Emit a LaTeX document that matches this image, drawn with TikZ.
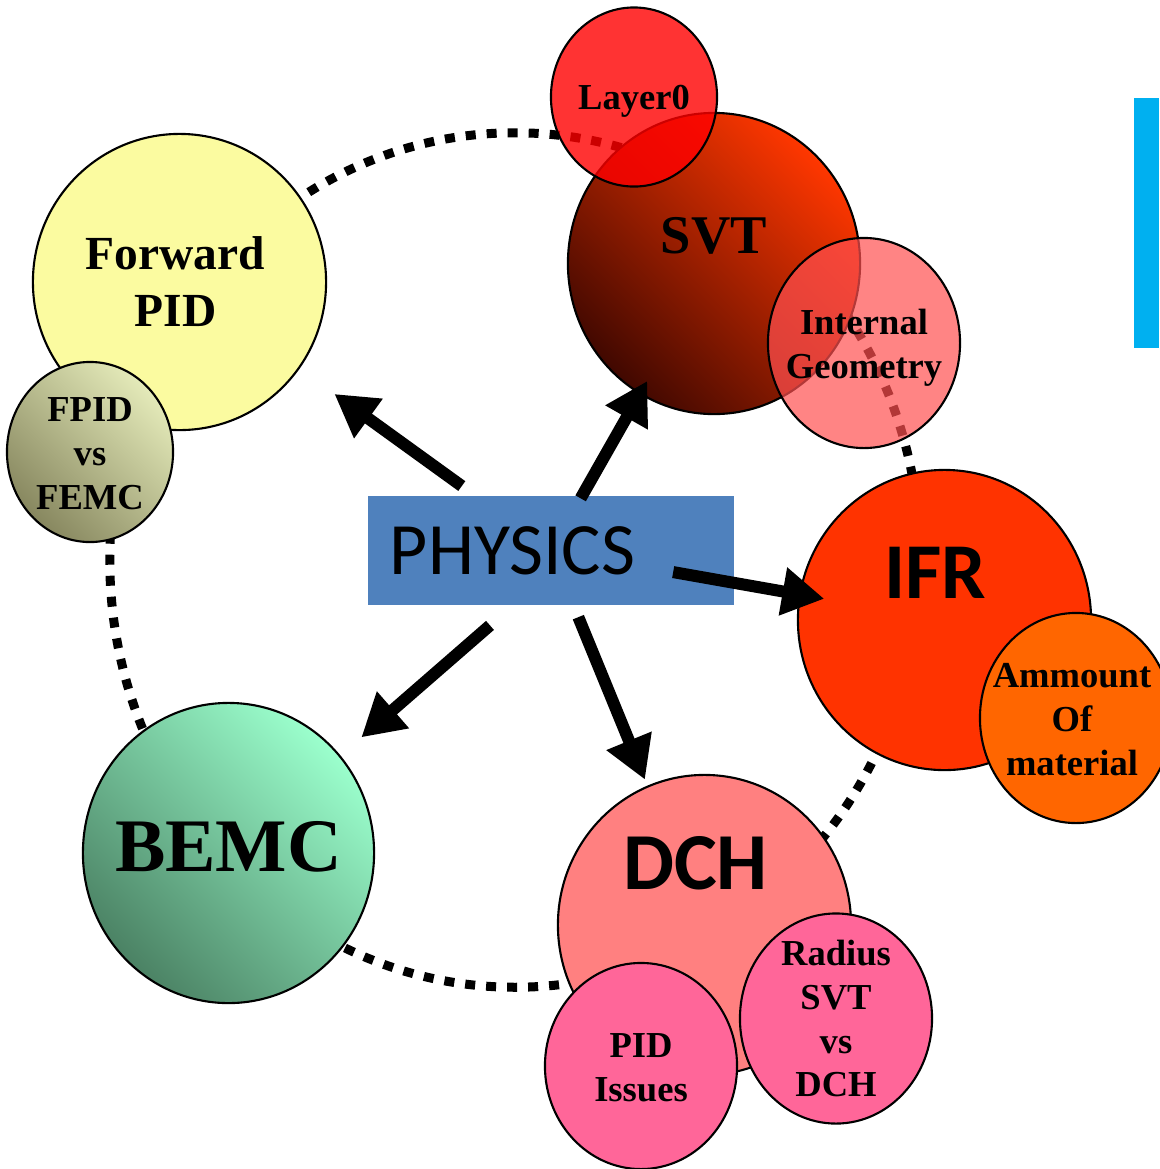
\documentclass[tikz,border=0pt]{standalone}
\usepackage{fontspec}
\setmainfont{Liberation Serif}
\newfontfamily\carlito{Carlito}
\usetikzlibrary{arrows.meta,shapes.geometric}

\definecolor{fwdyellow}{RGB}{251,251,160}
\definecolor{fpiddark}{RGB}{135,135,95}
\definecolor{fpidlight}{RGB}{228,234,185}
\definecolor{svtdark}{RGB}{65,8,0}
\definecolor{svtlight}{RGB}{255,55,0}
\definecolor{intred}{RGB}{255,80,80}
\definecolor{ifrred}{RGB}{255,51,0}
\definecolor{amorange}{RGB}{255,102,0}
\definecolor{dchpink}{RGB}{255,128,128}
\definecolor{pidpink}{RGB}{255,102,153}
\definecolor{bemcdark}{RGB}{75,130,100}
\definecolor{bemclight}{RGB}{155,255,205}
\definecolor{physblue}{RGB}{79,129,189}
\definecolor{barblue}{RGB}{0,176,240}

\begin{document}
\begin{tikzpicture}[x=0.01cm, y=-0.01cm,
	blob/.style={ellipse, draw=black, line width=0.6pt, inner sep=0pt},
	lbl/.style={align=center, text opacity=1, font=\bfseries\fontsize{10.4}{12.5}\selectfont},
	bigarrow/.style={-{Triangle[length=0.42cm,width=0.46cm]}, line width=0.12cm},
	dotring/.style={line width=0.09cm, dash pattern=on 0.1cm off 0.11cm}]
	\useasboundingbox (0,0) rectangle (1159,1169);
	% dotted ring behind everything
	\draw[dotring] (515,560) ellipse [x radius=4.05cm, y radius=4.27cm];
	% forward PID
	\node[blob, fill=fwdyellow, minimum width=2.93cm, minimum height=2.96cm,
		label={[lbl, font=\bfseries\fontsize{13.5}{16.2}\selectfont, xshift=-0.04cm]center:{Forward\\PID}}] (fwdpid) at (179.5,282) {};
	\node[blob, top color=fpidlight, bottom color=fpiddark, shading angle=-45, minimum width=1.66cm, minimum height=1.80cm,
		label={[lbl, yshift=-0.02cm]center:{FPID\\vs\\FEMC}}] (fpid) at (90,452) {};
	% SVT
	\node[blob, top color=svtlight, bottom color=svtdark, shading angle=-45, minimum width=2.92cm, minimum height=3.01cm,
		label={[lbl, font=\bfseries\fontsize{15.5}{18}\selectfont, yshift=0.28cm]center:SVT}] (svt) at (714,263.5) {};
	\node[blob, fill=red, fill opacity=0.8, minimum width=1.66cm, minimum height=1.79cm,
		label={[lbl, yshift=-0.04cm]center:Layer0}] (layer0) at (634,97) {};
	\node[blob, fill=intred, fill opacity=0.7, minimum width=1.92cm, minimum height=2.10cm,
		label={[lbl, yshift=-0.05cm]center:{Internal\\Geometry}}] (intgeo) at (864,343) {};
	% IFR
	\node[blob, fill=ifrred, minimum width=2.93cm, minimum height=3.00cm,
		label={[lbl, font=\carlito\bfseries\fontsize{22.5}{27}\selectfont, yshift=0.47cm, xshift=-0.09cm]center:IFR}] (ifr) at (944.5,620) {};
	\node[blob, fill=amorange, minimum width=1.92cm, minimum height=2.10cm,
		label={[lbl, xshift=-0.04cm, yshift=-0.02cm]center:{Ammount\\Of\\material}}] (ammount) at (1076,718) {};
	% DCH
	\node[blob, fill=dchpink, minimum width=2.93cm, minimum height=3.00cm,
		label={[lbl, font=\carlito\bfseries\fontsize{23}{27}\selectfont, yshift=0.62cm, xshift=-0.09cm]center:DCH}] (dch) at (704.5,925) {};
	\node[blob, fill=pidpink, minimum width=1.92cm, minimum height=2.06cm,
		label={[lbl, yshift=-0.02cm]center:{PID\\Issues}}] (pidiss) at (641,1066) {};
	\node[blob, fill=pidpink, minimum width=1.92cm, minimum height=2.10cm,
		label={[lbl]center:{Radius\\SVT\\vs\\DCH}}] (radius) at (836,1018.5) {};
	% BEMC
	\node[blob, top color=bemclight, bottom color=bemcdark, shading angle=-45, minimum width=2.91cm, minimum height=3.00cm,
		label={[lbl, font=\bfseries\fontsize{21.5}{25}\selectfont, yshift=0.06cm]center:BEMC}] (bemc) at (228.5,853) {};
	% physics in the middle
	\node[fill=physblue, minimum height=1.09cm, text width=3.22cm, inner xsep=0.22cm, align=left, font=\carlito\fontsize{21}{25}\selectfont] (physics) at (551,550.5) {PHYSICS};
	\draw[bigarrow, shorten <=1.10cm, shorten >=1.91cm] (physics.center) -- (fwdpid.center);
	\draw[bigarrow, shorten <=0.60cm, shorten >=1.35cm] (physics.center) -- (svt.center);
	\draw[bigarrow, shorten <=1.24cm, shorten >=1.22cm] (physics.center) -- (ifr.center);
	\draw[bigarrow, shorten <=0.72cm, shorten >=1.57cm] (physics.center) -- (dch.center);
	\draw[bigarrow, shorten <=1.14cm, shorten >=1.76cm] ([xshift=0.25cm]physics.center) -- (bemc.center);
	% side bar
	\fill[barblue] (1134,98) rectangle (1159,348);
\end{tikzpicture}
\end{document}
